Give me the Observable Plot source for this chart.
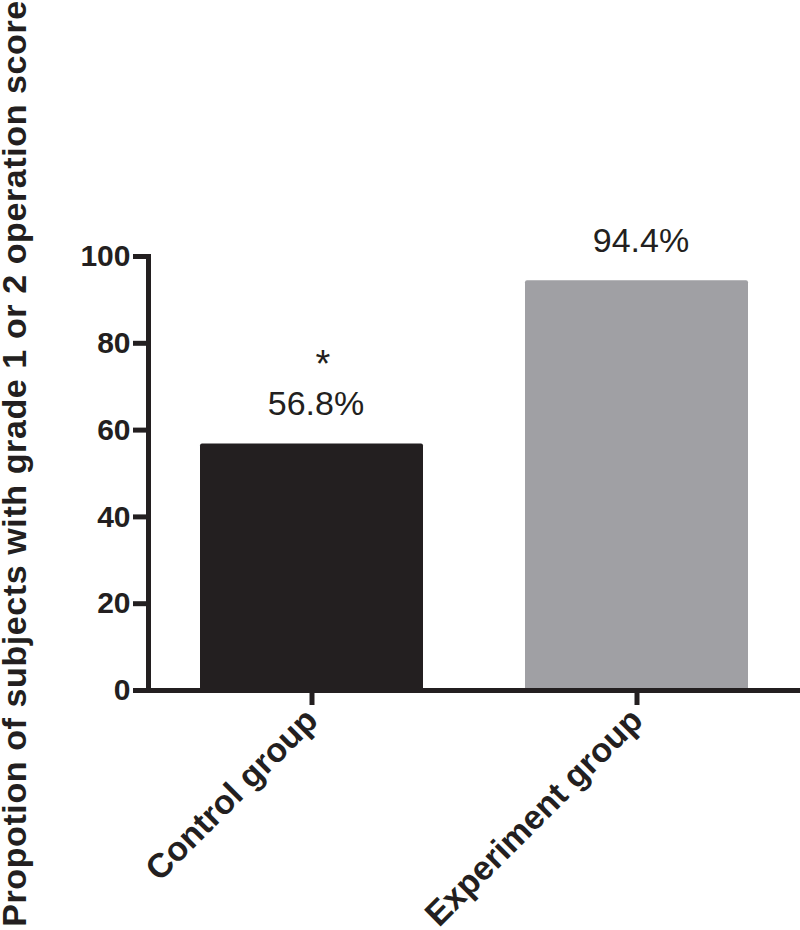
<!DOCTYPE html>
<html>
<head>
<meta charset="utf-8">
<script src="https://cdn.jsdelivr.net/npm/d3@7"></script>
<script src="https://cdn.jsdelivr.net/npm/@observablehq/plot@0.6"></script>
<style>
  html, body { margin: 0; padding: 0; background: #ffffff; }
  #chart svg { display: block; }
  #chart svg .ytitle text { letter-spacing: 0.6px; }
</style>
</head>
<body>
<div id="chart"></div>
<script>
const groups = ["Control group", "Experiment group"];
const values = [56.8, 94.4];
const valueLabels = ["56.8%", "94.4%"];
const significance = ["*", ""];
const barColors = ["#231f20", "#a0a0a4"];
const yTicks = [0, 20, 40, 60, 80, 100];
const yTitle = "Propotion of subjects with grade 1 or 2 operation score";

const data = groups.map((g, i) => ({
  group: g, value: values[i], label: valueLabels[i], sig: significance[i], color: barColors[i]
}));

const ink = "#231f20";
const font = "'Liberation Sans', Arial, Helvetica, sans-serif";

const chart = Plot.plot({
  width: 800,
  height: 930,
  marginLeft: 148,
  marginRight: 0,
  marginTop: 256,
  marginBottom: 240,
  style: {fontFamily: font, color: ink, background: "#ffffff", overflow: "visible"},
  x: {domain: groups, paddingInner: 0.315, paddingOuter: 0.16, label: null},
  y: {domain: [0, 100], label: null},
  color: {type: "identity"},
  marks: [
    Plot.barY(data, {x: "group", y: "value", fill: "color", rx: 2}),
    Plot.axisY({ticks: yTicks, tickSize: 15, tickPadding: 3, strokeWidth: 5, fontSize: 30, fontWeight: "bold", label: null, fill: ink, stroke: ink}),
    Plot.axisX({tickSize: 15, tickPadding: 9, strokeWidth: 5, tickRotate: -45, fontSize: 34, fontWeight: "bold", label: null, fill: ink, stroke: ink}),
    Plot.frame({anchor: "left", strokeWidth: 5, stroke: ink}),
    Plot.ruleY([0], {strokeWidth: 5, stroke: ink}),
    Plot.text(data, {x: "group", y: "value", text: "label", dy: -29, dx: 4, lineAnchor: "bottom", fontSize: 34, fill: ink}),
    Plot.text(data, {x: "group", y: "value", text: "sig", dy: -67, dx: 11, lineAnchor: "bottom", fontSize: 38, fill: ink}),
    Plot.text([yTitle], {frameAnchor: "left", textAnchor: "middle", rotate: -90, dx: -133, dy: -10, fontSize: 34, fontWeight: "bold", fill: ink, className: "ytitle"})
  ]
});
document.getElementById("chart").appendChild(chart);
</script>
</body>
</html>
